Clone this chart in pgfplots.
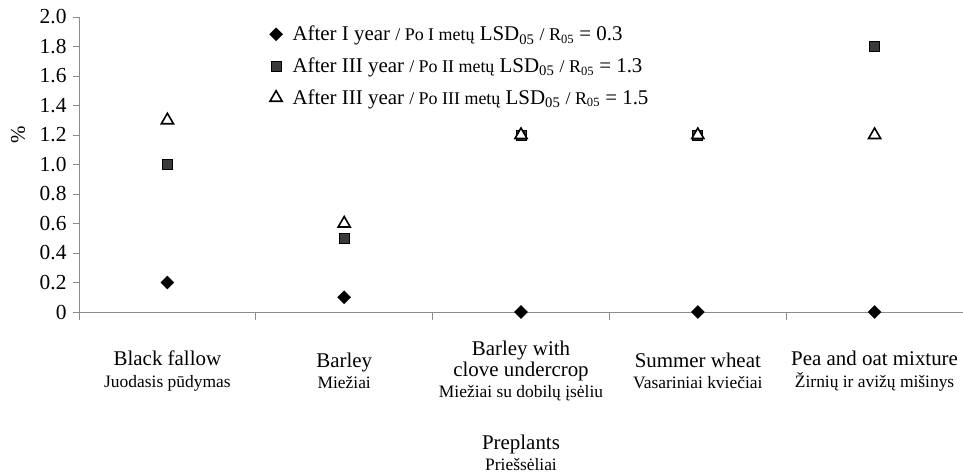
\documentclass[border=0pt]{standalone}
\usepackage{fontspec}
\setmainfont{Liberation Serif}
\usepackage{pgfplots}
\pgfplotsset{compat=1.18}
\newcommand\sm{\fontsize{17.5}{22}\selectfont}
\newcommand\bg{\fontsize{21}{22}\selectfont}
\newcommand\lsm{\fontsize{18}{22}\selectfont}
\definecolor{axgray}{HTML}{8C8C8C}
\definecolor{sqfill}{HTML}{3A3A3A}
\begin{document}
\begin{tikzpicture}
\begin{axis}[
  name=ax,
  scale only axis, width=884bp, height=295bp,
  xmin=0, xmax=5, ymin=0, ymax=2,
  axis x line*=bottom, axis y line*=left,
  axis line style={draw=axgray, line width=0.9pt},
  tick style={draw=axgray, line width=0.9pt},
  tick align=outside,
  major tick length=6bp, minor tick length=8bp,
  ytick={0,0.2,0.4,0.6,0.8,1.0,1.2,1.4,1.6,1.8,2.0},
  yticklabels={0,0.2,0.4,0.6,0.8,1.0,1.2,1.4,1.6,1.8,2.0},
  yticklabel style={font=\fontsize{21.5}{22}\selectfont, xshift=-3bp},
  /pgf/number format/assume math mode=true,
  xtick={0.5,1.5,2.5,3.5,4.5},
  minor xtick={0,1,2,3,4,5},
  every major x tick/.style={draw=none},
  xticklabels={
    {\bg Black fallow\\\sm Juodasis pūdymas},
    {\bg Barley\\\sm Miežiai},
    {\bg Barley with\\\bg clove undercrop\\\sm Miežiai su dobilų įsėliu},
    {\bg Summer wheat\\\sm Vasariniai kviečiai},
    {\bg Pea and oat mixture\\\sm Žirnių ir avižų mišinys}},
  xticklabel style={align=center, anchor=center, yshift=-53bp, font=\fontsize{21}{21.5}\selectfont},
  xlabel={\bg Preplants\\\sm Priešsėliai},
  xlabel style={align=center, at={(rel axis cs:0.5,0)}, anchor=north, yshift=-119bp, font=\fontsize{21}{22}\selectfont},
  ylabel={\fontsize{21}{22}\selectfont \%},
  ylabel style={at={(rel axis cs:0,0.6)}, anchor=center, yshift=61bp},
  clip=false,
  legend style={at={(rel axis cs:0.212,1.0)}, anchor=north west, yshift=-5bp, draw=none, fill=none,
    font=\fontsize{21}{24}\selectfont, row sep=11.5bp,
    /tikz/every odd column/.append style={column sep=8bp}},
  legend cell align=left,
]
\addplot[only marks, mark=square*, mark size=4.6pt, mark options={rotate=45, fill=black, draw=black}]
  coordinates {(0.5,0.2) (1.5,0.1) (2.5,0) (3.5,0) (4.5,0)};
\addlegendentry{After I year {\lsm / Po I metų} LSD\textsubscript{05} {\lsm /~R\textsubscript{05}} = 0.3}
\addplot[only marks, mark=square*, mark size=5pt, mark options={fill=sqfill, draw=black, line width=0.8pt}]
  coordinates {(0.5,1.0) (1.5,0.5) (2.5,1.2) (3.5,1.2) (4.5,1.8)};
\addlegendentry{After III year {\lsm / Po II metų} LSD\textsubscript{05} {\lsm /~R\textsubscript{05}} = 1.3}
\addplot[only marks, mark=triangle*, mark size=7pt, mark options={fill=white, draw=black, line width=1.6pt}]
  coordinates {(0.5,1.3) (1.5,0.6) (2.5,1.2) (3.5,1.2) (4.5,1.2)};
\addlegendentry{After III year {\lsm / Po III metų} LSD\textsubscript{05} {\lsm /~R\textsubscript{05}} = 1.5}
\end{axis}
\pgfresetboundingbox
\path (ax.south west) ++(-79bp,-162bp) rectangle ++(963bp,474bp);
\end{tikzpicture}
\end{document}
